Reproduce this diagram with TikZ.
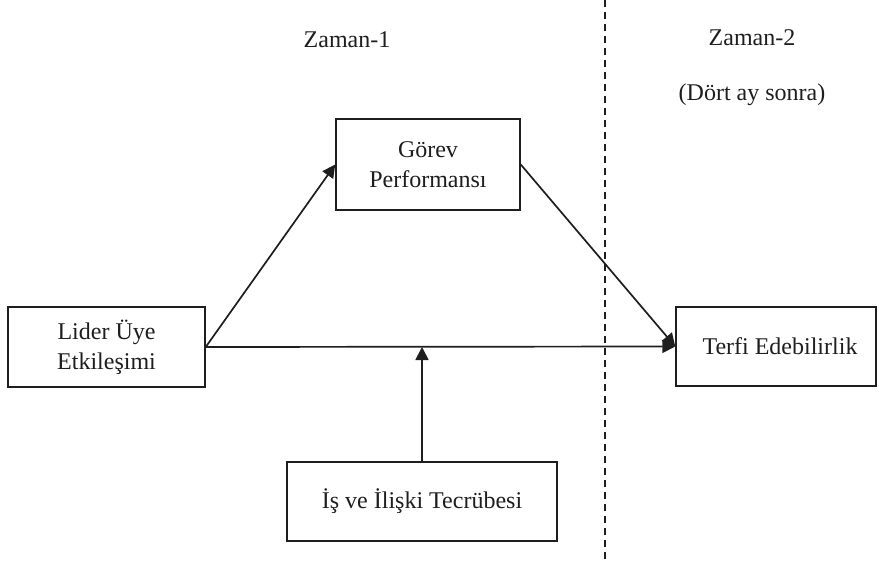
\documentclass[tikz,border=0pt]{standalone}
\usepackage{fontspec}
\setmainfont{Liberation Serif}
\usetikzlibrary{arrows.meta}
\definecolor{ink}{HTML}{1E1E1E}
\begin{document}
\begin{tikzpicture}[x=1pt,y=-1pt,
  box/.style={draw=ink,line width=1.5pt,rectangle,inner sep=0pt,align=center,
    font=\fontsize{24}{30}\selectfont,text=ink},
  lbl/.style={font=\fontsize{24}{30}\selectfont,text=ink,inner sep=0pt},
  arr/.style={draw=ink,line width=1.7pt,-{Triangle[length=13pt,width=13pt]}},
  sep/.style={draw=ink,line width=1.2pt,dash pattern=on 7pt off 5pt}]
\useasboundingbox (0,0) rectangle (879,564);
\node[box,minimum width=197pt,minimum height=80pt] (L) at (106.5,347) {Lider Üye\\Etkileşimi};
\node[box,minimum width=184pt,minimum height=91pt] (G) at (428,164.5) {Görev\\Performansı};
\node[box,minimum width=200pt,minimum height=79pt] (T) at (776,346.5) {\hspace*{8pt}Terfi Edebilirlik};
\node[box,minimum width=270pt,minimum height=79pt] (I) at (422,501.5) {İş ve İlişki Tecrübesi};
\coordinate (m) at (I.north |- L.east);
\coordinate (d1) at (605,0);
\coordinate (d2) at (605,564);
\draw[sep] (d1) -- (d2);
\draw[arr] (L.east) -- (G.west);
\draw[arr] (G.east) -- (T.west);
\draw[arr] (L.east) -- (T.west);
\draw[arr] (I.north) -- (m);
\node[lbl] (z1) at (347,40) {Zaman-1};
\node[lbl] (z2) at (752,38) {Zaman-2};
\node[lbl] (z3) at (752,95) {(Dört ay sonra)};
\end{tikzpicture}
\end{document}
